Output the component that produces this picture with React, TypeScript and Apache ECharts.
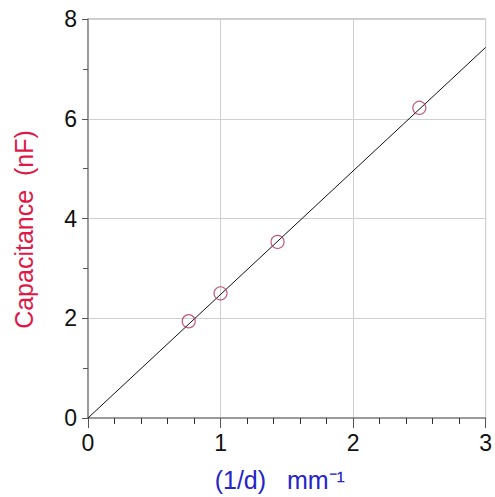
import React, { useEffect, useRef } from "react";
import * as echarts from "echarts";

const measuredPoints: [number, number][] = [
  [0.76, 1.94],
  [1.0, 2.5],
  [1.43, 3.53],
  [2.5, 6.22],
];
const fitLine: [number, number][] = [
  [0, 0],
  [3, 7.43],
];
const xTicks = [0, 1, 2, 3];
const yTicks = [0, 2, 4, 6, 8];

export default function App() {
  const ref = useRef<HTMLDivElement>(null);
  useEffect(() => {
    if (!ref.current) return;
    const chart = echarts.init(ref.current, undefined, { renderer: "svg" });
    const font = "Arial, 'Liberation Sans', sans-serif";
    chart.setOption({
      animation: false,
      backgroundColor: "#fff",
      grid: {
        left: 88,
        right: 7,
        top: 19,
        bottom: 77,
        show: true,
        borderColor: "#999",
        borderWidth: 1,
      },
      xAxis: {
        type: "value",
        min: xTicks[0],
        max: xTicks[xTicks.length - 1],
        interval: 1,
        name: "(1/d)   mm⁻¹",
        nameLocation: "middle",
        nameGap: 49,
        nameTextStyle: { color: "#2424c8", fontSize: 25, fontFamily: font, padding: [0, 14, 0, 0] },
        axisLine: { show: true, onZero: false, lineStyle: { color: "#888", width: 1.5 } },
        axisTick: { show: true, inside: false, length: 10, lineStyle: { color: "#555" } },
        minorTick: { show: true, splitNumber: 5, length: 6, lineStyle: { color: "#333" } },
        axisLabel: { color: "#111", fontSize: 23, fontFamily: font, margin: 13 },
        splitLine: { show: true, lineStyle: { color: "#d0d0d0", width: 1 } },
      },
      yAxis: {
        type: "value",
        min: yTicks[0],
        max: yTicks[yTicks.length - 1],
        interval: 2,
        name: "Capacitance  (nF)",
        nameLocation: "middle",
        nameGap: 52,
        nameRotate: 90,
        nameTextStyle: { color: "#e01848", fontSize: 25, fontFamily: font, padding: [0, 22, 0, 0] },
        axisLine: { show: true, onZero: false, lineStyle: { color: "#888", width: 1.5 } },
        axisTick: { show: true, inside: false, length: 6, lineStyle: { color: "#555" } },
        minorTick: { show: true, splitNumber: 2, length: 5, lineStyle: { color: "#555" } },
        axisLabel: { color: "#111", fontSize: 23, fontFamily: font, margin: 11 },
        splitLine: { show: true, lineStyle: { color: "#d0d0d0", width: 1 } },
      },
      series: [
        {
          type: "line",
          data: fitLine,
          showSymbol: false,
          symbol: "none",
          lineStyle: { color: "#111", width: 1 },
          z: 2,
        },
        {
          type: "scatter",
          data: measuredPoints,
          symbol: "circle",
          symbolSize: 13,
          itemStyle: { color: "rgba(0,0,0,0)", borderColor: "#b03058", borderWidth: 1.2 },
          z: 3,
        },
      ],
    });
    return () => chart.dispose();
  }, []);
  return <div ref={ref} style={{ width: 495, height: 497, position: "absolute", left: 0, top: 0 }} />;
}
